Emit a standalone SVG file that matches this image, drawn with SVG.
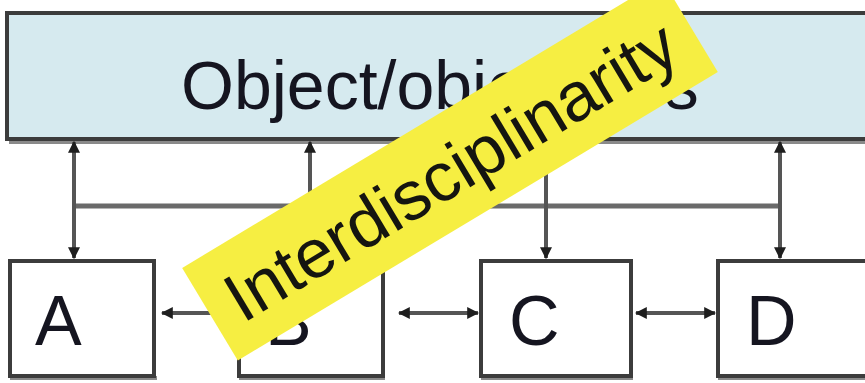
<svg xmlns="http://www.w3.org/2000/svg" width="865" height="383" viewBox="0 0 865 383">
<style>
.box{fill:#ffffff;stroke:#3c3c3c;stroke-width:4}
.shadow{fill:none;stroke:#8a8a8a;stroke-width:4}
.lbl{font-family:"Liberation Sans",Arial,sans-serif;font-size:70px;fill:#151520}
.con{fill:none;stroke:#555555;stroke-width:4}
.bus{fill:none;stroke:#6a6a6a;stroke-width:5}
</style>
<defs>
<marker id="ah" viewBox="0 0 10 10" refX="9" refY="5" markerWidth="12" markerHeight="12" markerUnits="userSpaceOnUse" orient="auto-start-reverse">
<path d="M0,0 L10,5 L0,10 z" fill="#1e1e1e"/>
</marker>
</defs>
<rect width="865" height="383" fill="#ffffff"/>
<g id="objective">
<line class="shadow" x1="9" y1="142" x2="865" y2="142"/>
<rect x="7" y="13" width="870" height="126" fill="#d6eaef" stroke="#3c3c3c" stroke-width="4"/>
<text class="lbl" x="181" y="109" style="font-size:68px">Object/objectives</text>
</g>
<g id="A">
<line class="shadow" x1="10" y1="378" x2="157" y2="378"/>
<rect class="box" x="10" y="261" width="144" height="115"/>
<text class="lbl" x="35" y="345">A</text>
</g>
<g id="B">
<line class="shadow" x1="239" y1="378" x2="385" y2="378"/>
<rect class="box" x="239" y="261" width="144" height="115"/>
<text class="lbl" x="265" y="345">B</text>
</g>
<g id="C">
<line class="shadow" x1="481" y1="378" x2="633" y2="378"/>
<rect class="box" x="481" y="261" width="150" height="115"/>
<text class="lbl" x="509" y="345">C</text>
</g>
<g id="D">
<line class="shadow" x1="718" y1="378" x2="865" y2="378"/>
<rect class="box" x="718" y="261" width="160" height="115"/>
<text class="lbl" x="746" y="345">D</text>
</g>
<g id="connectors">
<line class="bus" x1="74" y1="206" x2="780" y2="206"/>
<line class="con" x1="74" y1="142" x2="74" y2="258" marker-start="url(#ah)" marker-end="url(#ah)"/>
<line class="con" x1="310" y1="206" x2="310" y2="142" marker-end="url(#ah)"/>
<line class="con" x1="546" y1="142" x2="546" y2="258" marker-start="url(#ah)" marker-end="url(#ah)"/>
<line class="con" x1="780" y1="142" x2="780" y2="258" marker-start="url(#ah)" marker-end="url(#ah)"/>
<line class="con" x1="162" y1="313" x2="236" y2="313" marker-start="url(#ah)" marker-end="url(#ah)"/>
<line class="con" x1="399" y1="313" x2="478" y2="313" marker-start="url(#ah)" marker-end="url(#ah)"/>
<line class="con" x1="636" y1="313" x2="715" y2="313" marker-start="url(#ah)" marker-end="url(#ah)"/>
</g>
<g id="banner" transform="translate(450,170) rotate(-31)">
<rect x="-280" y="-54" width="560" height="108" fill="#f6ee42"/>
<text x="0" y="25" text-anchor="middle" font-family="'Liberation Sans',Arial,sans-serif" font-size="69" fill="#151510">Interdisciplinarity</text>
</g>
</svg>
